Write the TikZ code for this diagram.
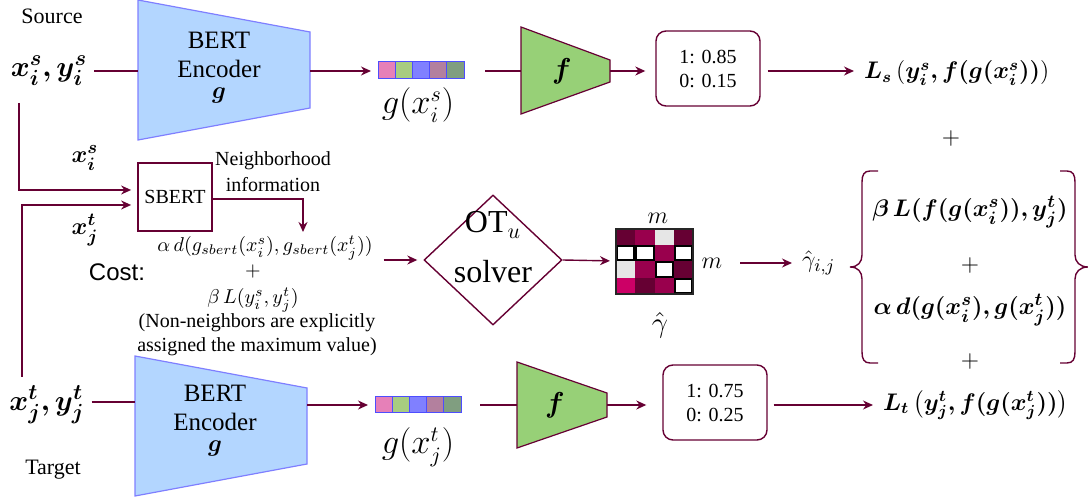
\documentclass[tikz,border=0pt]{standalone}
\usepackage{amsmath}
\usepackage{amssymb}
\usepackage{bm}
\usepackage{fontspec}
\setmainfont{Liberation Serif}
\setsansfont{Liberation Sans}
\usepackage{tikz}
\usetikzlibrary{positioning,arrows.meta,shapes.geometric}
\definecolor{maroon}{HTML}{660033}
\definecolor{bertfill}{HTML}{B3D6FF}
\definecolor{bertline}{HTML}{7F7FFF}
\definecolor{clffill}{HTML}{97D077}
\definecolor{vline}{HTML}{4D4DFF}
\definecolor{vpink}{HTML}{E680B8}
\definecolor{vgreen}{HTML}{A8CC80}
\definecolor{vblue}{HTML}{8080FF}
\definecolor{vmauve}{HTML}{B3809E}
\definecolor{vgrey}{HTML}{809E80}
\definecolor{mdark}{HTML}{660033}
\definecolor{mcrim}{HTML}{99004D}
\definecolor{mgray}{HTML}{E6E6E6}
\definecolor{mpink}{HTML}{CC0066}
\newcommand{\fsz}[2]{\fontsize{#1}{#2}\selectfont}
\tikzset{
  arr/.style={draw=maroon, line width=0.7pt, -{Stealth[length=5pt,width=4.5pt]}},
  ln/.style={draw=maroon, line width=0.7pt},
  encoder/.style={fill=bertfill, draw=bertline, line width=0.6pt},
  clf/.style={fill=clffill, draw=maroon, line width=0.6pt},
  probbox/.style={draw=maroon, line width=0.7pt, rounded corners=5pt, minimum width=52pt,
    minimum height=37.5pt, align=center, font=\fsz{10}{12}},
  vcell/.style={draw=vline, line width=0.5pt}
}

\begin{document}
\begin{tikzpicture}[x=0.5pt,y=-0.5pt]
\useasboundingbox (0,0) rectangle (1088,502);

\node (srclbl) at (52,16) {\fsz{11}{13}Source};
\node[font=\fsz{15}{18}] (srcxy) at (49,71) {$\bm{x_i^s, y_i^s}$};
\filldraw[encoder] (138,0) -- (310,32) -- (310,108) -- (138,140) -- cycle;
\node[align=center, font=\fsz{12.5}{14.5}] (srcenc) at (219,68) {BERT\\Encoder\\[-4pt]$\bm{g}$};
\coordinate (srcencL) at (138,71);
\coordinate (srcencR) at (310,71);
\draw[ln] (srcxy.east |- srcencL) -- (srcencL);
\foreach \c [count=\k from 0] in {vpink,vgreen,vblue,vmauve,vgrey}
  \filldraw[vcell, fill=\c] (378+17.2*\k,62) rectangle ++(17.2,17);
\coordinate (srcvecW) at (377,71);
\coordinate (srcvecE) at (465,71);
\draw[arr, shorten >=3pt] (srcencR) -- (srcvecW);
\node[font=\fsz{16}{19}] (srcg) at (418,105) {$g(x_i^s)$};
\filldraw[clf] (521,27) -- (610,60) -- (610,82) -- (521,114) -- cycle;
\coordinate (srcclfL) at (521,71);
\coordinate (srcclfR) at (610,71);
\draw[ln, shorten <=10pt] (srcvecE) -- (srcclfL);
\node[font=\fsz{15}{18}] (srcf) at (562,71) {$\bm{f}$};
\node[probbox] (srcprob) at (708,68.5) {1: 0.85\\0: 0.15};
\draw[arr, shorten >=5pt] (srcclfR) -- (srcclfR -| srcprob.west);
\node[anchor=west, font=\fsz{11.5}{14}] (srcloss) at (857,73) {$\bm{L_s\left(y_i^s, f(g(x_i^s))\right)}$};
\draw[arr, shorten <=3.5pt, shorten >=1.5pt] (srcprob.east |- srcclfR) -- (srcloss.west |- srcclfR);
\node[font=\fsz{13}{15}] (plustop) at (951,139) {$+$};

\node[draw=maroon, line width=0.7pt, minimum width=37pt, minimum height=34pt, font=\fsz{10}{12}] (sbert) at (175,197) {SBERT};
\coordinate (srctap) at (19,103);
\coordinate (tgttap) at (22,377);
\draw[arr, shorten >=3pt] (srctap) |- ([yshift=3.5pt]sbert.west);
\draw[arr, shorten >=3pt] (tgttap) |- ([yshift=-4pt]sbert.west);
\node[font=\fsz{13}{15}] (xis) at (85,158) {$\bm{x_i^s}$};
\node[font=\fsz{13}{15}] (xjt) at (85,230) {$\bm{x_j^t}$};
\node[align=center, font=\fsz{10}{13}] (nbhd) at (273,172) {Neighborhood\\information};
\coordinate (nbhdend) at (303,232);
\draw[arr] ([yshift=-1pt]sbert.east) -| (nbhdend);
\node[font=\fsz{10}{12}] (costa) at (265,248) {$\alpha\, d(g_{sbert}(x_i^s), g_{sbert}(x_j^t))$};
\node[font=\fsz{10}{12}] (costplus) at (253,272) {$+$};
\node[font=\fsz{10}{12}] (costb) at (253,300) {$\beta\, L(y_i^s, y_j^t)$};
\node[align=center, font=\fsz{10}{12}] (costnote) at (257,335) {(Non-neighbors are explicitly\\assigned the maximum value)};
\node[font=\sffamily\fsz{12}{14}] (costlbl) at (117,272) {Cost:};

\node[diamond, draw=maroon, line width=0.7pt, minimum width=69pt, minimum height=65pt, inner sep=0pt] (otu) at (493,260) {};
\node[font=\fsz{16}{19}] (ottxt) at (493,225) {OT$_u$};
\node[font=\fsz{16}{19}] (solver) at (493,272) {solver};
\draw[arr, shorten <=2pt, shorten >=3pt] (costa.east |- otu.west) -- (otu.west);

\fill[black] (616,229) rectangle (693,294);
\foreach \r/\row in {0/{mdark,mcrim,mgray,mdark},1/{black,black,mcrim,black},2/{mgray,mcrim,black,mdark},3/{mpink,mdark,mcrim,black}}
  \foreach \c [count=\k from 0] in \row
    \fill[\c] (616+19.25*\k,229+16.25*\r) rectangle ++(19.25,16.25);
\foreach \k/\r in {0/1,1/1,3/1,2/2,3/3}
  \fill[white] (618+19.25*\k,231+16.25*\r) rectangle ++(15.25,12.25);
\draw[black!85, line width=0.8pt] (616,229) rectangle (693,294);
\coordinate (gamW) at (616,261);
\draw[arr, shorten >=3pt] (otu.east) -- (gamW);
\node[font=\fsz{12}{14}] (mtop) at (658,218) {$m$};
\node[font=\fsz{12}{14}] (mright) at (712,263) {$m$};
\node[font=\fsz{14}{16}] (gam) at (660,325) {$\hat{\gamma}$};
\node[anchor=west, font=\fsz{13}{15}] (gij) at (795,263) {$\hat{\gamma}_{i,j}$};
\draw[arr, shorten <=5.5pt, shorten >=1.5pt] (mright.east) -- (gij.west);

\draw[ln] (878,171) -- (870,171) .. controls (864,171) and (862,175) .. (862,182) -- (862,255)
  .. controls (862,262) and (858,267) .. (850,267) .. controls (858,267) and (862,272) .. (862,279)
  -- (862,352) .. controls (862,359) and (864,363) .. (870,363) -- (878,363);
\draw[ln] (1060,171) -- (1067,171) .. controls (1073,171) and (1075,175) .. (1075,182) -- (1075,255)
  .. controls (1075,262) and (1080,267) .. (1088,267) .. controls (1080,267) and (1075,272) .. (1075,279)
  -- (1075,352) .. controls (1075,359) and (1073,363) .. (1067,363) -- (1060,363);
\node[font=\fsz{12.5}{15}] (bra) at (970,212) {$\bm{\beta\, L(f(g(x_i^s)), y_j^t)}$};
\node[font=\fsz{13}{15}] (braplus) at (970,266) {$+$};
\node[font=\fsz{12.5}{15}] (brb) at (970,310) {$\bm{\alpha\, d(g(x_i^s), g(x_j^t))}$};
\node[font=\fsz{13}{15}] (braplus2) at (970,362) {$+$};

\node[font=\fsz{11}{13}] (tgtlbl) at (53,470) {Target};
\node[font=\fsz{15}{18}] (tgtxy) at (47,405) {$\bm{x_j^t, y_j^t}$};
\filldraw[encoder] (135,356) -- (307,388) -- (307,464) -- (135,496) -- cycle;
\node[align=center, font=\fsz{12.5}{14.5}] (tgtenc) at (215,421) {BERT\\Encoder\\[-4pt]$\bm{g}$};
\coordinate (tgtencL) at (135,402);
\coordinate (tgtencR) at (307,405);
\draw[ln] (tgtxy.east |- tgtencL) -- (tgtencL);
\foreach \c [count=\k from 0] in {vpink,vgreen,vblue,vmauve,vgrey}
  \filldraw[vcell, fill=\c] (375+17.2*\k,397) rectangle ++(17.2,16);
\coordinate (tgtvecW) at (374,405);
\coordinate (tgtvecE) at (462,405);
\draw[arr, shorten >=3pt] (tgtencR) -- (tgtvecW);
\node[font=\fsz{16}{19}] (tgtg) at (418,447) {$g(x_j^t)$};
\filldraw[clf] (517,362) -- (607,393) -- (607,417) -- (517,448) -- cycle;
\coordinate (tgtclfL) at (517,405);
\coordinate (tgtclfR) at (607,405);
\draw[ln, shorten <=9pt] (tgtvecE) -- (tgtclfL);
\node[font=\fsz{15}{18}] (tgtf) at (555,405) {$\bm{f}$};
\node[probbox] (tgtprob) at (715,402.5) {1: 0.75\\0: 0.25};
\draw[arr, shorten >=8pt] (tgtclfR) -- (tgtclfR -| tgtprob.west);
\node[anchor=west, font=\fsz{11.5}{14}] (tgtloss) at (876,405) {$\bm{L_t\left(y_j^t, f(g(x_j^t))\right)}$};
\draw[arr, shorten <=3pt, shorten >=1.5pt] (tgtprob.east |- tgtclfR) -- (tgtloss.west |- tgtclfR);
\end{tikzpicture}
\end{document}
